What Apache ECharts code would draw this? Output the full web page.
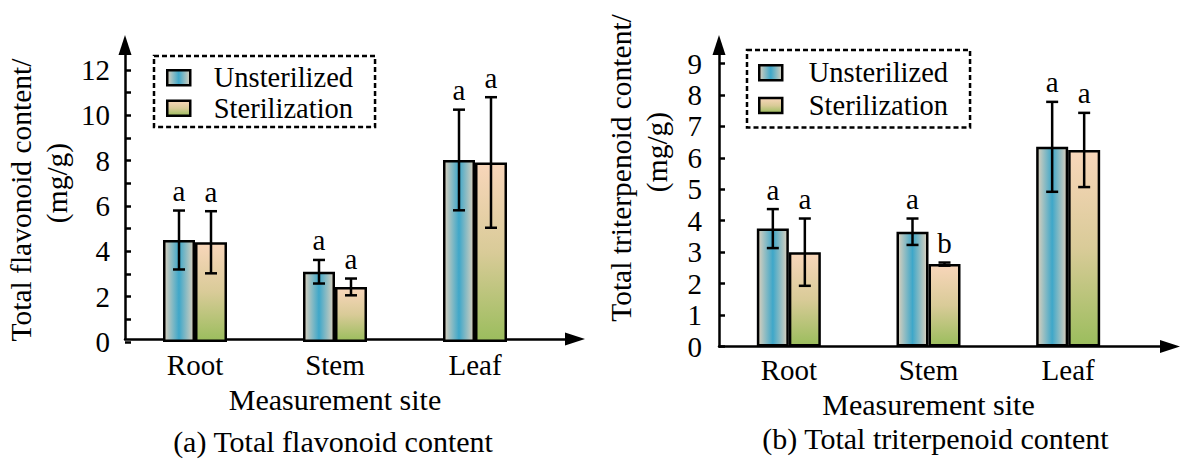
<!DOCTYPE html>
<html><head><meta charset="utf-8">
<script src="https://cdn.jsdelivr.net/npm/echarts@6/dist/echarts.min.js"></script>
<style>html,body{margin:0;padding:0;background:#fff}#c{width:1182px;height:461px}</style>
</head><body><div id="c"></div>
<script>
// ---------- data ----------
const categories = ['Root', 'Stem', 'Leaf'];
const seriesNames = ['Unsterilized', 'Sterilization'];

const flavUnsterilized = [4.50, 3.10, 8.03];
const flavUnsterilizedErr = [1.30, 0.52, 2.22];
const flavUnsterilizedSig = ['a', 'a', 'a'];
const flavSterilization = [4.40, 2.43, 7.92];
const flavSterilizationErr = [1.37, 0.37, 2.88];
const flavSterilizationSig = ['a', 'a', 'a'];

const triUnsterilized = [3.75, 3.65, 6.35];
const triUnsterilizedErr = [0.62, 0.42, 1.43];
const triUnsterilizedSig = ['a', 'a', 'a'];
const triSterilization = [3.00, 2.62, 6.25];
const triSterilizationErr = [1.07, 0.05, 1.18];
const triSterilizationSig = ['a', 'b', 'a'];

const flavAxis = { min: 0, max: 12, interval: 2 };
const triAxis = { min: 0, max: 9, interval: 1 };

const flavYTitle = ['Total flavonoid content/', '(mg/g)'];
const triYTitle = ['Total triterpenoid content/', '(mg/g)'];
const xTitle = 'Measurement site';
const captions = ['(a) Total flavonoid content', '(b) Total triterpenoid content'];

// ---------- style ----------
const FONT = '"Liberation Serif", "Times New Roman", serif';
const BAR_W = 32;
const CAP_W = 12;
const LW = 2.5;
const unstColor = new echarts.graphic.LinearGradient(0, 0, 1, 0, [
  { offset: 0, color: '#dcd0bd' }, { offset: 0.5, color: '#3ea7c9' }, { offset: 1, color: '#dcd0bd' }]);
const sterColor = new echarts.graphic.LinearGradient(0, 0, 0, 1, [
  { offset: 0, color: '#f8d6ba' }, { offset: 0.5, color: '#d9cb98' }, { offset: 1, color: '#9bbd5d' }]);

function barSeries(name, gi, data, color) {
  return { type: 'bar', name: name, xAxisIndex: gi, yAxisIndex: gi, data: data,
    barWidth: BAR_W, barGap: '0%', silent: true,
    itemStyle: { color: color, borderColor: '#000', borderWidth: LW } };
}
function errSeries(gi, means, errs, sigs, side) {
  return { type: 'custom', xAxisIndex: gi, yAxisIndex: gi, silent: true, z: 5,
    encode: { x: 0, y: 1 },
    data: means.map((m, i) => [i, m, errs[i]]),
    renderItem: function (params, api) {
      const i = api.value(0), m = api.value(1), e = api.value(2);
      const top = api.coord([i, m + e]);
      const bot = api.coord([i, m - e]);
      const x = top[0] + side * BAR_W / 2;
      const h = CAP_W / 2;
      const ls = { stroke: '#000', lineWidth: LW };
      return { type: 'group', children: [
        { type: 'line', shape: { x1: x, y1: top[1], x2: x, y2: bot[1] }, style: ls },
        { type: 'line', shape: { x1: x - h, y1: top[1], x2: x + h, y2: top[1] }, style: ls },
        { type: 'line', shape: { x1: x - h, y1: bot[1], x2: x + h, y2: bot[1] }, style: ls },
        { type: 'text', x: x, y: top[1] - 5, style: { text: sigs[params.dataIndex], fill: '#000',
          font: '29px ' + FONT, align: 'center', verticalAlign: 'bottom',
          textAlign: 'center', textVerticalAlign: 'bottom' } }
      ] };
    } };
}
function catAxis(gi, nameGap, margin) {
  return { type: 'category', gridIndex: gi, data: categories,
    axisLine: { show: false }, axisTick: { show: false },
    axisLabel: { color: '#000', fontSize: 29, fontFamily: FONT, margin: margin },
    name: xTitle, nameLocation: 'middle', nameGap: nameGap,
    nameTextStyle: { color: '#000', fontSize: 30, fontFamily: FONT } };
}
function valAxis(gi, ax, minor, margin) {
  return { type: 'value', gridIndex: gi, min: ax.min, max: ax.max, interval: ax.interval,
    axisLine: { show: false }, splitLine: { show: false },
    axisTick: { show: true, inside: true, length: 6, lineStyle: { color: '#000', width: LW } },
    minorTick: { show: minor, splitNumber: 2, length: 6, lineStyle: { color: '#000', width: LW } },
    axisLabel: { color: '#000', fontSize: 29, fontFamily: FONT, margin: margin } };
}
function frameX(gi, caption, gap, pad) {
  return { type: 'value', gridIndex: gi, min: 0, max: 1,
    axisLine: { show: true, symbol: ['none', 'triangle'], symbolSize: [13, 20], lineStyle: { color: '#000', width: LW } },
    axisTick: { show: false }, axisLabel: { show: false }, splitLine: { show: false },
    name: caption, nameLocation: 'middle', nameGap: gap,
    nameTextStyle: { color: '#000', fontSize: 30, fontFamily: FONT, padding: [0, pad, 0, 0] } };
}
function frameY(gi) {
  return { type: 'value', gridIndex: gi, min: 0, max: 1,
    axisLine: { show: true, symbol: ['none', 'triangle'], symbolSize: [13, 20], lineStyle: { color: '#000', width: LW } },
    axisTick: { show: false }, axisLabel: { show: false }, splitLine: { show: false } };
}
function legend(left, top, pad, lh, textPad) {
  return { data: seriesNames, orient: 'vertical', left: left, top: top,
    padding: pad, itemGap: 0, itemWidth: 23, itemHeight: 15, icon: 'rect',
    borderColor: '#000', borderWidth: LW, borderType: [5, 3], selectedMode: false,
    itemStyle: { borderColor: '#000', borderWidth: LW },
    textStyle: { color: '#000', fontSize: 28.5, fontFamily: FONT, lineHeight: lh, padding: [0, 0, 0, textPad] } };
}
function yTitle(text, x, y) {
  return { type: 'text', x: x, y: y, rotation: Math.PI / 2, silent: true,
    style: { text: text, fill: '#000', font: '29.5px ' + FONT,
      align: 'center', verticalAlign: 'middle', textAlign: 'center', textVerticalAlign: 'middle' } };
}

const chart = echarts.init(document.getElementById('c'), null, { renderer: 'svg' });
chart.setOption({
  animation: false,
  backgroundColor: '#fff',
  grid: [
    { left: 125, top: 70, width: 420, height: 272 },
    { left: 125, top: 45, width: 450, height: 297 },
    { left: 719, top: 63.5, width: 419, height: 283 },
    { left: 719, top: 45, width: 451, height: 301.5 }
  ],
  legend: [legend(154, 56, [6.5, 22, 3.5, 12], 30.5, 18.5), legend(747, 50, [6.5, 22, 5.5, 11], 32.7, 21.5)],
  graphic: [
    yTitle(flavYTitle[0], 21, 200), yTitle(flavYTitle[1], 56.5, 183),
    yTitle(triYTitle[0], 621, 168), yTitle(triYTitle[1], 656.5, 152)
  ],
  xAxis: [
    catAxis(0, 42, 8),
    frameX(1, captions[0], 87, 34),
    catAxis(2, 36.7, 9),
    frameX(3, captions[1], 76.7, 18)
  ],
  yAxis: [
    valAxis(0, flavAxis, true, 15),
    frameY(1),
    valAxis(2, triAxis, false, 17),
    frameY(3)
  ],
  series: [
    barSeries(seriesNames[0], 0, flavUnsterilized, unstColor),
    barSeries(seriesNames[1], 0, flavSterilization, sterColor),
    errSeries(0, flavUnsterilized, flavUnsterilizedErr, flavUnsterilizedSig, -1),
    errSeries(0, flavSterilization, flavSterilizationErr, flavSterilizationSig, 1),
    barSeries(seriesNames[0], 2, triUnsterilized, unstColor),
    barSeries(seriesNames[1], 2, triSterilization, sterColor),
    errSeries(2, triUnsterilized, triUnsterilizedErr, triUnsterilizedSig, -1),
    errSeries(2, triSterilization, triSterilizationErr, triSterilizationSig, 1)
  ]
});
</script></body></html>
